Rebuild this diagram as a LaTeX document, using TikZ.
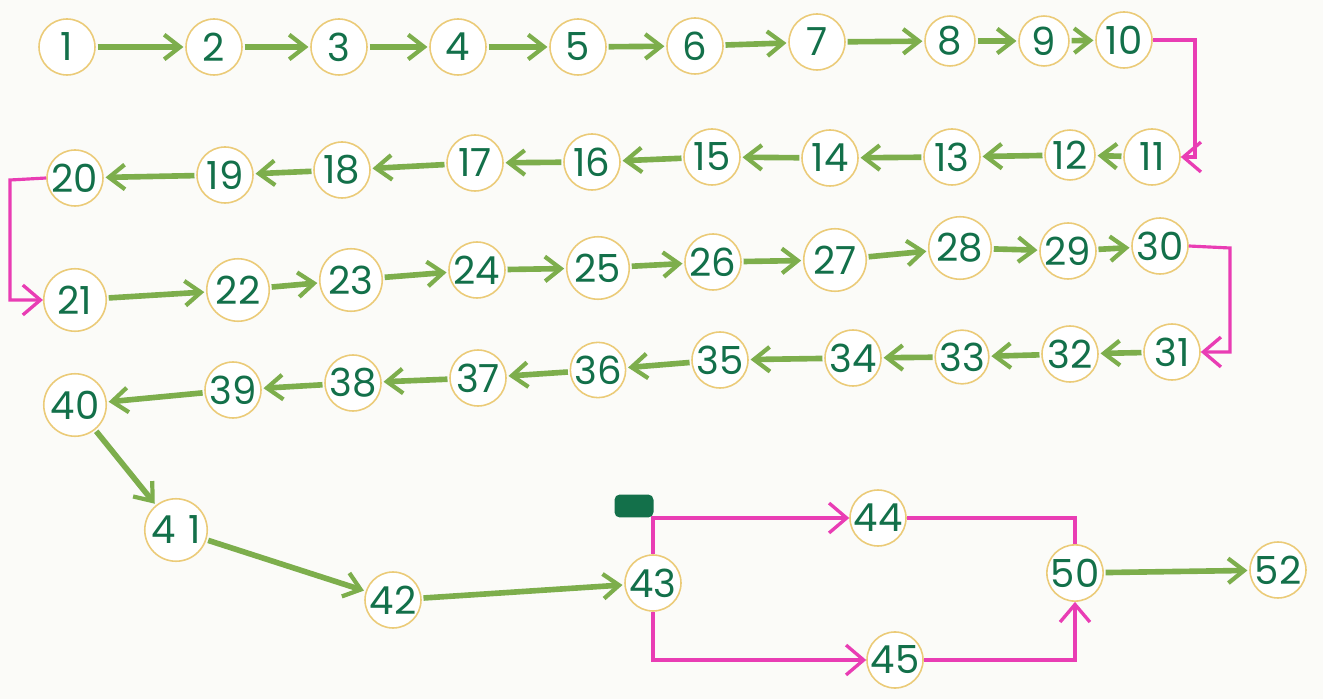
\documentclass[tikz,border=0pt]{standalone}
\usepackage{fontspec}
\setmainfont{Poppins}
\usetikzlibrary{arrows.meta}
\definecolor{paper}{HTML}{FBFBF8}
\definecolor{ring}{HTML}{EBCB78}
\definecolor{txt}{HTML}{13704A}
\definecolor{grn}{HTML}{7DAE4C}
\definecolor{mag}{HTML}{E93DB4}
\tikzset{
  nd/.style={circle,draw=ring,line width=0.9pt,fill=white,minimum size=1.12cm,inner sep=0pt,
    text=txt,font=\fontsize{22}{23}\selectfont},
  sm/.style={minimum size=1.0cm},
  big/.style={minimum size=1.25cm},
  ga/.style={draw=grn,line width=3.2pt,-{Straight Barb[length=9pt,width=14pt,line width=2.4pt]},shorten >=1pt,shorten <=1pt},
  ma/.style={draw=mag,line width=1.8pt},
  mh/.style={ma,-{Straight Barb[length=10pt,width=17pt,line width=1.9pt]}}
}
\begin{document}
\begin{tikzpicture}[x=0.02cm,y=-0.02cm]
\fill[paper] (0,0) rectangle (1323,699);
\useasboundingbox (0,0) rectangle (1323,699);
% row 1
\node[nd] (n1) at (67,47) {1};
\node[nd] (n2) at (214,47) {2};
\node[nd] (n3) at (339,47) {3};
\node[nd] (n4) at (458,47) {4};
\node[nd] (n5) at (578,47) {5};
\node[nd] (n6) at (695,46) {6};
\node[nd] (n7) at (817,42) {7};
\node[nd,sm] (n8) at (950,41) {8};
\node[nd,sm] (n9) at (1044,41) {9};
\node[nd] (n10) at (1124,40) {10};
% row 2
\node[nd] (n11) at (1152,157) {11};
\node[nd,sm] (n12) at (1070,155) {12};
\node[nd] (n13) at (952,157) {13};
\node[nd] (n14) at (830,158) {14};
\node[nd] (n15) at (712,157) {15};
\node[nd] (n16) at (592,162) {16};
\node[nd] (n17) at (475,163) {17};
\node[nd] (n18) at (342,170) {18};
\node[nd] (n19) at (225,175) {19};
\node[nd] (n20) at (75,178) {20};
% row 3
\node[nd,big] (n21) at (75,300) {21};
\node[nd,big] (n22) at (238,290) {22};
\node[nd,big] (n23) at (351,280) {23};
\node[nd] (n24) at (477,270) {24};
\node[nd,big] (n25) at (598,268) {25};
\node[nd] (n26) at (713,262) {26};
\node[nd,big] (n27) at (835,260) {27};
\node[nd,big] (n28) at (960,248) {28};
\node[nd] (n29) at (1068,251) {29};
\node[nd] (n30) at (1160,246) {30};
% row 4
\node[nd] (n31) at (1172,352) {31};
\node[nd] (n32) at (1070,354) {32};
\node[nd,sm] (n33) at (962,357) {33};
\node[nd] (n34) at (853,358) {34};
\node[nd] (n35) at (720,360) {35};
\node[nd,sm] (n36) at (598,370) {36};
\node[nd] (n37) at (478,378) {37};
\node[nd] (n38) at (353,383) {38};
\node[nd] (n39) at (233,390) {39};
\node[nd,big] (n40) at (75,405) {40};
% bottom
\node[nd,big] (n41) at (176,530) {4\,\,1};
\node[nd] (n42) at (393,600) {42};
\node[nd] (n43) at (653,583) {43};
\node[nd] (n44) at (878,518) {44};
\node[nd] (n45) at (895,660) {45};
\node[nd] (n50) at (1075,573) {50};
\node[nd] (n52) at (1278,570) {52};
% scribble (crossed-out label)
\node[fill=txt,rounded corners=3pt,minimum width=0.78cm,minimum height=0.46cm,inner sep=0pt] (scrib) at (634,506) {};
% green arrows
\foreach \a/\b in {1/2,2/3,3/4,4/5,5/6,6/7,7/8,8/9,9/10,
  11/12,12/13,13/14,14/15,15/16,16/17,17/18,18/19,19/20,
  21/22,22/23,23/24,24/25,25/26,26/27,27/28,28/29,29/30,
  31/32,32/33,33/34,34/35,35/36,36/37,37/38,38/39,39/40,
  40/41,41/42,42/43,50/52}
  \draw[ga] (n\a) -- (n\b);
% magenta connectors
\coordinate (c10) at (1195,40);
\coordinate (c20) at (10,180);
\coordinate (c30) at (1230,248);
\draw[mh] (n10.east) -- (c10) |- (n11.east);
\draw[mh] (n20.west) -- (c20) |- (n21.west);
\draw[mh] (n30.east) -- (c30) |- (n31.east);
\draw[mh] (n43.north) |- (n44.west);
\draw[ma] (n44.east) -| (n50.north);
\draw[mh] (n43.south) |- (n45.west);
\draw[mh] (n45.east) -| (n50.south);
\end{tikzpicture}
\end{document}
